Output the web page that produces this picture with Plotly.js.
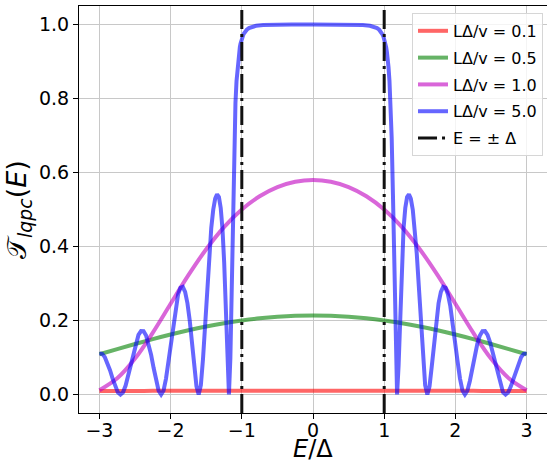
<!DOCTYPE html>
<html>
<head>
<meta charset="utf-8">
<script src="https://cdn.plot.ly/plotly-3.0.1.min.js"></script>
<style>html,body{margin:0;padding:0;background:#fff;}#chart{width:547px;height:465px;}</style>
</head>
<body>
<div id="chart"></div>
<script>
// Common energy grid (E/Δ) for the smooth curves
const energy = [-3, -2.75, -2.5, -2.25, -2, -1.75, -1.5, -1.25, -1, -0.75, -0.5, -0.25, 0,
                0.25, 0.5, 0.75, 1, 1.25, 1.5, 1.75, 2, 2.25, 2.5, 2.75, 3];

// LΔ/v = 0.1
const tL01 = [0.0096, 0.0097, 0.0097, 0.0098, 0.0098, 0.0098, 0.0099, 0.0099, 0.0099, 0.0099, 0.0099, 0.0099, 0.0099,
              0.0099, 0.0099, 0.0099, 0.0099, 0.0099, 0.0099, 0.0098, 0.0098, 0.0098, 0.0097, 0.0097, 0.0096];
// LΔ/v = 0.5
const tL05 = [0.1087, 0.1228, 0.1365, 0.1497, 0.1621, 0.1735, 0.1837, 0.1926, 0.2000, 0.2059, 0.2101, 0.2127, 0.2135,
              0.2127, 0.2101, 0.2059, 0.2000, 0.1926, 0.1837, 0.1735, 0.1621, 0.1497, 0.1365, 0.1228, 0.1087];
// LΔ/v = 1.0
const tL10 = [0.0117, 0.0438, 0.0972, 0.1671, 0.2451, 0.3225, 0.3926, 0.4524, 0.5000, 0.5359, 0.5607, 0.5752, 0.5800,
              0.5752, 0.5607, 0.5359, 0.5000, 0.4524, 0.3926, 0.3225, 0.2451, 0.1671, 0.0972, 0.0438, 0.0117];

// LΔ/v = 5.0 (oscillating curve, sampled densely)
const energyL50 = [
  -3.0000, -2.9621, -2.9251, -2.8883, -2.8514, -2.8147, -2.7780, -2.7414, -2.7049, -2.6685,
  -2.6321, -2.5958, -2.5596, -2.5235, -2.4875, -2.4516, -2.4158, -2.3801, -2.3445, -2.3091,
  -2.2737, -2.2385, -2.2035, -2.1685, -2.1338, -2.0992, -2.0647, -2.0305, -1.9964, -1.9625,
  -1.9288, -1.8953, -1.8621, -1.8291, -1.7963, -1.7638, -1.7316, -1.6997, -1.6681, -1.6369,
  -1.6060, -1.5754, -1.5453, -1.5156, -1.4863, -1.4575, -1.4292, -1.4014, -1.3741, -1.3475,
  -1.3215, -1.2962, -1.2716, -1.2477, -1.2246, -1.2024, -1.1810, -1.1606, -1.1412, -1.1228,
  -1.1055, -1.0893, -1.0743, -1.0606, -1.0482, -1.0371, -1.0274, -1.0191, -1.0123, -1.0069,
  -1.0031, -1.0008, -1.0000,
  -0.99, -0.98, -0.97, -0.95, -0.93, -0.90, -0.85, -0.80, -0.70, -0.60, -0.50, -0.30, 0.00,
  0.30, 0.50, 0.60, 0.70, 0.80, 0.85, 0.90, 0.93, 0.95, 0.97, 0.98, 0.99,
  1.0000, 1.0008, 1.0031, 1.0069, 1.0123, 1.0191, 1.0274, 1.0371, 1.0482, 1.0606,
  1.0743, 1.0893, 1.1055, 1.1228, 1.1412, 1.1606, 1.1810, 1.2024, 1.2246, 1.2477,
  1.2716, 1.2962, 1.3215, 1.3475, 1.3741, 1.4014, 1.4292, 1.4575, 1.4863, 1.5156,
  1.5453, 1.5754, 1.6060, 1.6369, 1.6681, 1.6997, 1.7316, 1.7638, 1.7963, 1.8291,
  1.8621, 1.8953, 1.9288, 1.9625, 1.9964, 2.0305, 2.0647, 2.0992, 2.1338, 2.1685,
  2.2035, 2.2385, 2.2737, 2.3091, 2.3445, 2.3801, 2.4158, 2.4516, 2.4875, 2.5235,
  2.5596, 2.5958, 2.6321, 2.6685, 2.7049, 2.7414, 2.7780, 2.8147, 2.8514, 2.8883,
  2.9251, 2.9621, 3.0000
];
const tL50 = [
  0.1111, 0.1101, 0.1015, 0.0861, 0.0655, 0.0427, 0.0213, 0.0058, 0.0000, 0.0062,
  0.0241, 0.0510, 0.0826, 0.1141, 0.1413, 0.1611, 0.1714, 0.1710, 0.1595, 0.1376,
  0.1071, 0.0715, 0.0366, 0.0102, 0.0000, 0.0110, 0.0430, 0.0900, 0.1435, 0.1951,
  0.2388, 0.2706, 0.2884, 0.2908, 0.2771, 0.2467, 0.2001, 0.1404, 0.0759, 0.0222,
  0.0000, 0.0250, 0.0954, 0.1922, 0.2926, 0.3808, 0.4502, 0.4995, 0.5296, 0.5411,
  0.5335, 0.5041, 0.4477, 0.3567, 0.2267, 0.0787, 0.0000, 0.0988, 0.3264, 0.5422,
  0.6925, 0.7875, 0.8470, 0.8851, 0.9102, 0.9272, 0.9389, 0.9472, 0.9530, 0.9570,
  0.9596, 0.9611, 0.9615,
  0.9671, 0.9718, 0.9756, 0.9815, 0.9858, 0.9901, 0.9943, 0.9964, 0.9984, 0.9991, 0.9995, 0.9997, 0.9998,
  0.9997, 0.9995, 0.9991, 0.9984, 0.9964, 0.9943, 0.9901, 0.9858, 0.9815, 0.9756, 0.9718, 0.9671,
  0.9615, 0.9611, 0.9596, 0.9570, 0.9530, 0.9472, 0.9389, 0.9272, 0.9102, 0.8851,
  0.8470, 0.7875, 0.6925, 0.5422, 0.3264, 0.0988, 0.0000, 0.0787, 0.2267, 0.3567,
  0.4477, 0.5041, 0.5335, 0.5411, 0.5296, 0.4995, 0.4502, 0.3808, 0.2926, 0.1922,
  0.0954, 0.0250, 0.0000, 0.0222, 0.0759, 0.1404, 0.2001, 0.2467, 0.2771, 0.2908,
  0.2884, 0.2706, 0.2388, 0.1951, 0.1435, 0.0900, 0.0430, 0.0110, 0.0000, 0.0102,
  0.0366, 0.0715, 0.1071, 0.1376, 0.1595, 0.1710, 0.1714, 0.1611, 0.1413, 0.1141,
  0.0826, 0.0510, 0.0241, 0.0062, 0.0000, 0.0058, 0.0213, 0.0427, 0.0655, 0.0861,
  0.1015, 0.1101, 0.1111
];

// Gap edges E = ±Δ
const gapEdges = [-1, 1];

const seriesNames = ["LΔ/v = 0.1", "LΔ/v = 0.5", "LΔ/v = 1.0", "LΔ/v = 5.0", "E = ± Δ"];
const xTicks = [-3, -2, -1, 0, 1, 2, 3];
const yTicks = [0.0, 0.2, 0.4, 0.6, 0.8, 1.0];
const yTickText = ["0.0", "0.2", "0.4", "0.6", "0.8", "1.0"];
const xTitle = "<i>E</i>/Δ";
const yTitle = "𝒯<sub><i>lqpc</i></sub>(<i>E</i>)";

const dashDot = "19px,5px,3px,5px";
const LW = 4;

const traces = [
  {x: energy, y: tL01, name: seriesNames[0], mode: "lines", legendgroup: "a",
   line: {color: "rgba(255,0,0,0.6)", width: LW, shape: "spline"}},
  {x: energy, y: tL05, name: seriesNames[1], mode: "lines", legendgroup: "b",
   line: {color: "rgba(0,128,0,0.6)", width: LW, shape: "spline"}},
  {x: energy, y: tL10, name: seriesNames[2], mode: "lines", legendgroup: "c",
   line: {color: "rgba(191,0,191,0.6)", width: LW, shape: "spline"}},
  {x: energyL50, y: tL50, name: seriesNames[3], mode: "lines", legendgroup: "d",
   line: {color: "rgba(0,0,255,0.6)", width: LW}},
  {x: [null], y: [null], name: seriesNames[4], mode: "lines", legendgroup: "e",
   line: {color: "#111111", width: 3, dash: dashDot}}
];

const shapes = gapEdges.map(e => ({
  type: "line", xref: "x", yref: "paper", x0: e, x1: e, y0: 0, y1: 1,
  line: {color: "#111111", width: 3, dash: dashDot}, layer: "above"
}));

const font = "DejaVu Sans, Arial, sans-serif";

const layout = {
  width: 547, height: 465,
  margin: {l: 79, r: 0, t: 6, b: 52},
  paper_bgcolor: "#ffffff", plot_bgcolor: "#ffffff",
  font: {family: font, color: "#000", size: 18},
  showlegend: true,
  legend: {
    x: 0.9915, xanchor: "right", y: 0.983, yanchor: "top",
    bgcolor: "rgba(255,255,255,0.8)", bordercolor: "#d6d6d6", borderwidth: 1,
    font: {family: font, size: 16, color: "#000"},
    itemwidth: 30, traceorder: "grouped", tracegroupgap: 3
  },
  xaxis: {
    range: [-3.287, 3.287], tickvals: xTicks, ticks: "outside", ticklen: 5, tickwidth: 1, tickcolor: "#000",
    showline: true, mirror: true, linecolor: "#000", linewidth: 1,
    showgrid: true, gridcolor: "#c8c8c8", gridwidth: 1, zeroline: false,
    tickfont: {family: font, size: 19}, ticklabelstandoff: -5,
    automargin: false
  },
  yaxis: {
    range: [-0.05, 1.05], tickvals: yTicks, ticktext: yTickText, ticks: "outside", ticklen: 5, tickwidth: 1, tickcolor: "#000",
    showline: true, mirror: true, linecolor: "#000", linewidth: 1,
    showgrid: true, gridcolor: "#c8c8c8", gridwidth: 1, zeroline: false,
    tickfont: {family: font, size: 19},
    title: {text: yTitle, font: {family: font, size: 27}, standoff: 4},
    automargin: false
  },
  annotations: [{
    text: xTitle, xref: "paper", yref: "paper", x: 0.5, y: -0.088,
    xanchor: "center", yanchor: "middle", showarrow: false, borderpad: 0,
    font: {family: font, size: 24, color: "#000"}
  }],
  shapes: shapes
};

Plotly.newPlot("chart", traces, layout, {displayModeBar: false, staticPlot: true});
</script>
</body>
</html>
